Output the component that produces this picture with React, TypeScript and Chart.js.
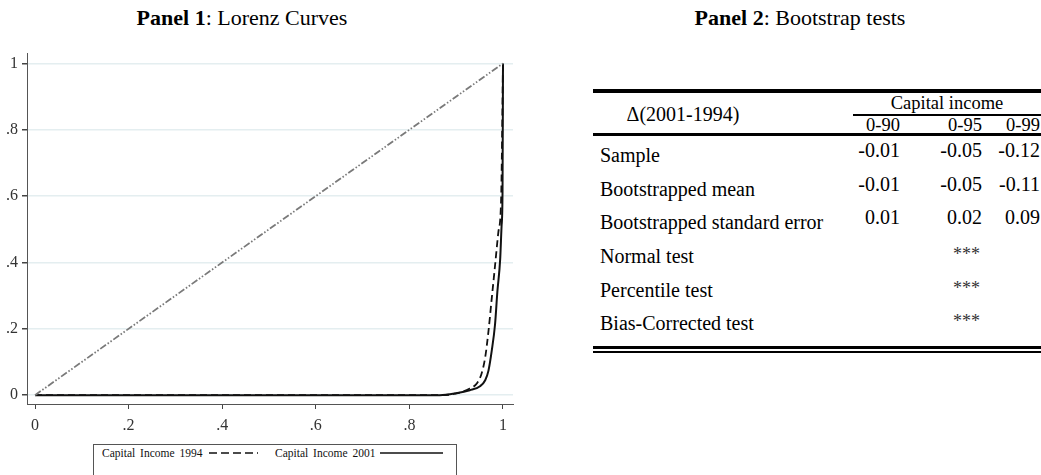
import React, { useEffect, useRef } from "react";
import { Chart, registerables } from "chart.js";

Chart.register(...registerables);

// ---------- Panel 1 data (Lorenz curves) ----------
const popShare2001 = [0, 0.865, 0.9, 0.929, 0.951, 0.962, 0.969, 0.976, 0.983, 0.988, 0.994, 0.997, 0.999, 1];
const incomeShare2001 = [0, 0, 0.006, 0.015, 0.027, 0.045, 0.074, 0.134, 0.213, 0.312, 0.41, 0.51, 0.61, 1];
const popShare1994 = [0, 0.87, 0.9, 0.929, 0.944, 0.954, 0.962, 0.969, 0.976, 0.983, 0.99, 0.996, 1];
const incomeShare1994 = [0, 0, 0.005, 0.02, 0.035, 0.064, 0.114, 0.193, 0.292, 0.39, 0.49, 0.59, 1];
const equalityX = [0, 1];
const equalityY = [0, 1];
const axisTicks = [0, 0.2, 0.4, 0.6, 0.8, 1];
const axisTickLabels = ["0", ".2", ".4", ".6", ".8", "1"];
const legendLabels = ["Capital Income 1994", "Capital Income 2001"];

// ---------- Panel 2 data (table) ----------
const headerLabel = "Δ(2001-1994)";
const groupLabel = "Capital income";
const tableColumns = ["0-90", "0-95", "0-99"];
const tableRowLabels = [
  "Sample",
  "Bootstrapped mean",
  "Bootstrapped standard error",
  "Normal test",
  "Percentile test",
  "Bias-Corrected test",
];
const sampleValues = ["-0.01", "-0.05", "-0.12"];
const bootMeanValues = ["-0.01", "-0.05", "-0.11"];
const bootSeValues = ["0.01", "0.02", "0.09"];
const normalTestValues = ["", "***", ""];
const percentileTestValues = ["", "***", ""];
const biasCorrectedValues = ["", "***", ""];

const SERIF = "'Liberation Serif', 'Times New Roman', Times, serif";

function toPoints(xs: number[], ys: number[]) {
  return xs.map((x, i) => ({ x, y: ys[i] }));
}

function tickLabel(v: number | string) {
  const n = Number(v);
  const i = axisTicks.findIndex((t) => Math.abs(t - n) < 1e-9);
  return i >= 0 ? axisTickLabels[i] : "";
}

function LorenzChart() {
  const ref = useRef<HTMLCanvasElement | null>(null);
  useEffect(() => {
    if (!ref.current) return;
    const chart = new Chart(ref.current, {
      type: "line",
      data: {
        datasets: [
          {
            label: "Equality",
            data: toPoints(equalityX, equalityY),
            borderColor: "#7a7a7a",
            borderWidth: 1.8,
            borderDash: [7, 2, 1.5, 2, 1.5, 2],
            pointRadius: 0,
            fill: false,
          },
          {
            label: legendLabels[0],
            data: toPoints(popShare1994, incomeShare1994),
            borderColor: "#111",
            borderWidth: 1.8,
            borderDash: [7, 4],
            pointRadius: 0,
            cubicInterpolationMode: "monotone",
            fill: false,
          },
          {
            label: legendLabels[1],
            data: toPoints(popShare2001, incomeShare2001),
            borderColor: "#111",
            borderWidth: 2,
            pointRadius: 0,
            cubicInterpolationMode: "monotone",
            fill: false,
          },
        ],
      },
      options: {
        animation: false,
        responsive: false,
        maintainAspectRatio: false,
        layout: { padding: { top: 8, right: 17, left: 0, bottom: 0 } },
        plugins: {
          legend: { display: false },
          tooltip: { enabled: false },
          title: { display: false },
        },
        scales: {
          x: {
            type: "linear",
            min: -0.0171,
            max: 1.0214,
            afterBuildTicks: (s: any) => {
              s.ticks = axisTicks.map((v) => ({ value: v }));
            },
            afterFit: (s: any) => {
              s.height = 36;
            },
            ticks: {
              callback: (v: any) => tickLabel(v),
              font: { family: SERIF, size: 16 },
              color: "#333",
              padding: 7,
              maxRotation: 0,
              autoSkip: false,
            },
            grid: {
              drawOnChartArea: false,
              drawTicks: true,
              tickLength: 5,
              tickColor: "#444",
            },
            border: { display: true, color: "#555", width: 1 },
          },
          y: {
            type: "linear",
            min: -0.0267,
            max: 1.0297,
            afterBuildTicks: (s: any) => {
              s.ticks = axisTicks.map((v) => ({ value: v }));
            },
            afterFit: (s: any) => {
              s.width = 27;
            },
            ticks: {
              callback: (v: any) => tickLabel(v),
              font: { family: SERIF, size: 16 },
              color: "#333",
              padding: 4,
              autoSkip: false,
            },
            grid: {
              drawOnChartArea: true,
              color: "#e4eef0",
              lineWidth: 1.5,
              drawTicks: true,
              tickLength: 5,
              tickColor: "#444",
            },
            border: { display: true, color: "#555", width: 1 },
          },
        },
      },
    } as any);
    return () => chart.destroy();
  }, []);
  return (
    <canvas
      ref={ref}
      width={530}
      height={400}
      style={{ position: "absolute", left: 0, top: 40, width: 530, height: 400 }}
    />
  );
}

const tableRowsValues = [
  sampleValues,
  bootMeanValues,
  bootSeValues,
  normalTestValues,
  percentileTestValues,
  biasCorrectedValues,
];

const rowCenters = [155, 189, 222, 256, 290, 323];
const colRightEdges = [900, 982, 1040];

function abs(left: number, top: number, extra: React.CSSProperties = {}): React.CSSProperties {
  return { position: "absolute", left, top, whiteSpace: "nowrap", ...extra };
}

export default function App() {
  const labelFont = 20;
  const numFont = 20;
  const headFont = 18.5;
  const lh = 24;
  const legendText: React.CSSProperties = {
    fontSize: 11.5,
    lineHeight: "16px",
    wordSpacing: 2,
    color: "#111",
  };
  return (
    <div
      style={{
        position: "absolute",
        left: 0,
        top: 0,
        width: 1041,
        height: 475,
        overflow: "hidden",
        background: "#fff",
        fontFamily: SERIF,
        color: "#000",
      }}
    >
      {/* Panel titles */}
      <div style={abs(0, 6, { width: 484, textAlign: "center", fontSize: 22, lineHeight: "24px" })}>
        <b>Panel 1</b>: Lorenz Curves
      </div>
      <div style={abs(600, 6, { width: 400, textAlign: "center", fontSize: 22, lineHeight: "24px" })}>
        <b>Panel 2</b>: Bootstrap tests
      </div>

      <LorenzChart />

      {/* Legend */}
      <div
        style={abs(93, 444, {
          width: 364,
          height: 40,
          border: "1px solid #555",
          boxSizing: "border-box",
        })}
      />
      <div style={abs(102, 445, legendText)}>{legendLabels[0]}</div>
      <svg style={abs(209, 449)} width={49} height={8}>
        <line x1={0} y1={4} x2={49} y2={4} stroke="#111" strokeWidth={1.6} strokeDasharray="8,4" />
      </svg>
      <div style={abs(275, 445, legendText)}>{legendLabels[1]}</div>
      <svg style={abs(380, 449)} width={63} height={8}>
        <line x1={0} y1={4} x2={63} y2={4} stroke="#111" strokeWidth={1.6} />
      </svg>

      {/* Table */}
      <div style={abs(593, 89, { width: 448, height: 4, background: "#000" })} />
      <div style={abs(593, 114 - lh / 2, { width: 180, textAlign: "center", fontSize: labelFont, lineHeight: lh + "px" })}>
        {headerLabel}
      </div>
      <div style={abs(853, 102.5 - lh / 2, { width: 188, textAlign: "center", fontSize: headFont, lineHeight: lh + "px" })}>
        {groupLabel}
      </div>
      <div style={abs(853, 114, { width: 188, height: 1.5, background: "#000" })} />
      {tableColumns.map((c, i) => (
        <div
          key={c}
          style={abs(colRightEdges[i] - 80, 124.5 - lh / 2, {
            width: 80,
            textAlign: "right",
            fontSize: headFont,
            lineHeight: lh + "px",
          })}
        >
          {c}
        </div>
      ))}
      <div style={abs(593, 133, { width: 448, height: 2.5, background: "#000" })} />

      {tableRowLabels.map((r, i) => (
        <div
          key={r}
          style={abs(600, rowCenters[i] - lh / 2, { fontSize: labelFont, lineHeight: lh + "px" })}
        >
          {r}
        </div>
      ))}
      {tableRowsValues.map((vals, ri) =>
        vals.map((v, ci) => {
          if (!v) return null;
          const stars = v.startsWith("*");
          return (
            <div
              key={ri + "-" + ci}
              style={abs(colRightEdges[ci] - 80 - (stars ? 2 : 0), rowCenters[ri] - 5 - lh / 2 + (stars ? 3 : 0), {
                width: 80,
                textAlign: "right",
                fontSize: stars ? 18 : numFont,
                lineHeight: lh + "px",
                color: stars ? "#333" : "#000",
              })}
            >
              {v}
            </div>
          );
        })
      )}
      <div style={abs(593, 346, { width: 448, height: 3, background: "#000" })} />
      <div style={abs(593, 351, { width: 448, height: 2, background: "#000" })} />
    </div>
  );
}
